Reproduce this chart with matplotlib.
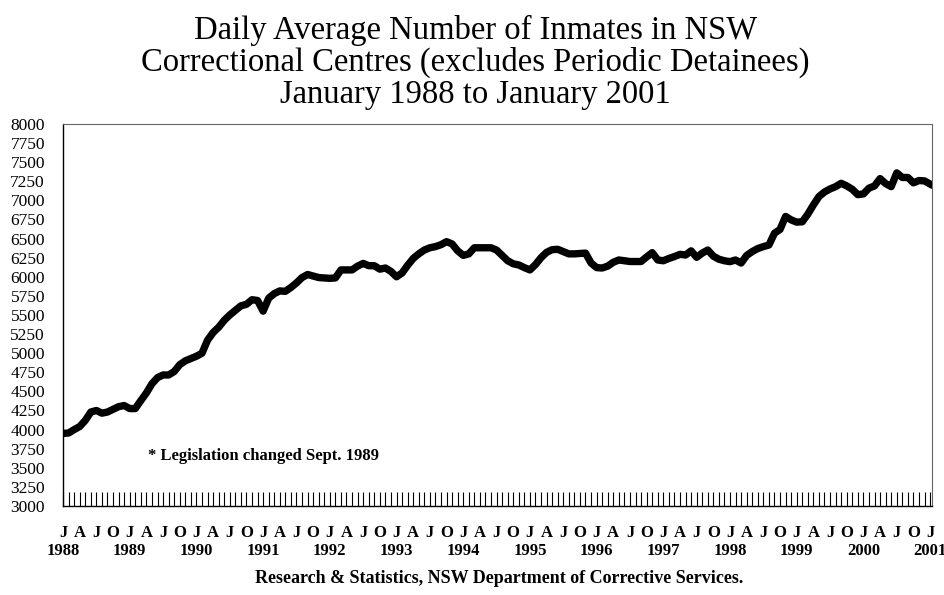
import matplotlib.pyplot as plt
import matplotlib.transforms as mtransforms
import numpy as np

# monthly daily-average inmate counts, Jan 1988 .. Jan 2001
inmates = [
    3950, 3955, 4000, 4040, 4120, 4230, 4250, 4215, 4230, 4265, 4300, 4315,   # 1988
    4275, 4275, 4380, 4480, 4600, 4680, 4715, 4715, 4760, 4850, 4900, 4930,   # 1989
    4960, 5000, 5170, 5270, 5340, 5430, 5500, 5560, 5620, 5640, 5700, 5690,   # 1990
    5550, 5720, 5780, 5815, 5810, 5860, 5920, 5990, 6030, 6010, 5990, 5985,   # 1991
    5980, 5985, 6090, 6090, 6090, 6140, 6175, 6145, 6145, 6100, 6115, 6070,   # 1992
    6000, 6050, 6150, 6240, 6300, 6350, 6380, 6395, 6420, 6460, 6430, 6340,   # 1993
    6280, 6300, 6380, 6380, 6380, 6380, 6350, 6280, 6210, 6170, 6155, 6120,   # 1994
    6090, 6160, 6250, 6320, 6355, 6360, 6330, 6300, 6300, 6305, 6310, 6180,   # 1995
    6120, 6115, 6140, 6190, 6220, 6210, 6200, 6200, 6200, 6260, 6316, 6220,   # 1996
    6210, 6240, 6265, 6294, 6285, 6340, 6255, 6310, 6350, 6270, 6230, 6210,   # 1997
    6198, 6220, 6180, 6280, 6330, 6370, 6395, 6416, 6570, 6620, 6790, 6745,   # 1998
    6715, 6720, 6820, 6940, 7050, 7110, 7150, 7180, 7224, 7190, 7145, 7075,   # 1999
    7085, 7160, 7190, 7285, 7220, 7180, 7360, 7300, 7300, 7230, 7260, 7255,   # 2000
    7214,                                                                     # Jan 2001
]
years = list(range(1988, 2002))
quarter_letters = ['J', 'A', 'J', 'O']
yticks = list(range(3000, 8001, 250))

plt.rcParams['font.family'] = ['Liberation Serif', 'DejaVu Serif']

months = np.arange(len(inmates))

fig = plt.figure(figsize=(9.45, 5.95), dpi=100)
ax = fig.add_axes([0.0667, 0.1496, 0.9193, 0.642])

ax.plot(months, inmates, color='black', linewidth=5.3, solid_joinstyle='round')

ax.set_xlim(0, 156.3)
ax.set_ylim(3000, 8000)

ax.set_yticks(yticks)
ax.set_yticklabels([str(v) for v in yticks], fontsize=12.5)
ax.tick_params(axis='y', length=0, pad=13)

qpos = np.arange(0, len(inmates), 3)
ax.set_xticks(qpos)
ax.set_xticklabels([quarter_letters[(q // 3) % 4] for q in qpos],
                   fontsize=12, fontweight='bold')
ax.set_xticks(months, minor=True)
ax.tick_params(axis='x', which='both', direction='in', length=10, width=0.8, pad=14)

trans = mtransforms.blended_transform_factory(ax.transData, ax.transAxes)
for i, yr in enumerate(years):
    ax.text(i * 12, -0.098, str(yr), transform=trans, ha='center', va='top',
            fontsize=12, fontweight='bold')

for side in ['top', 'right']:
    ax.spines[side].set_color('#666666')
    ax.spines[side].set_linewidth(0.8)
for side in ['left', 'bottom']:
    ax.spines[side].set_linewidth(1.0)

ax.text(15.2, 3650, '* Legislation changed Sept. 1989', fontsize=12,
        fontweight='bold', va='center')

fig.text(0.503, 0.975, 'Daily Average Number of Inmates in NSW\n'
         'Correctional Centres (excludes Periodic Detainees)\n'
         'January 1988 to January 2001',
         ha='center', va='top', fontsize=23.5, linespacing=1.05)

fig.text(0.528, 0.028, 'Research & Statistics, NSW Department of Corrective Services.',
         ha='center', va='center', fontsize=13, fontweight='bold')

fig.savefig('out.png', dpi=100)
